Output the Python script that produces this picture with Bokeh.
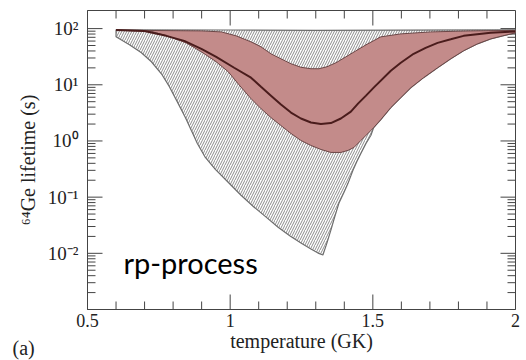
import math
from bokeh.plotting import figure
from bokeh.models import (FixedTicker, Label, Range1d, CustomJSTickFormatter)
from bokeh.embed import file_html
from bokeh.resources import INLINE

# ---------------- data ----------------
# hatched envelope (full uncertainty range)
env_upper_x = [0.60, 1.00, 1.30, 1.60, 2.00]
env_upper_y = [95, 94.5, 93, 94, 95]
env_lower_x = [0.60, 0.647, 0.689, 0.724, 0.759, 0.787, 0.818, 0.843, 0.864,
               0.885, 0.913, 0.948, 0.993, 1.038, 1.084, 1.126, 1.168, 1.210,
               1.248, 1.283, 1.308, 1.325, 1.339, 1.353, 1.367, 1.381, 1.399,
               1.413, 1.430, 1.444, 1.458, 1.476, 1.493, 1.503, 1.528, 1.563,
               1.598, 1.633, 1.678, 1.727, 1.773, 1.818, 1.867, 1.913, 1.955,
               2.00]
env_lower_y = [71.3, 51.4, 37.1, 25.7, 15.7, 9.25, 4.62, 2.61, 1.53,
               0.903, 0.509, 0.312, 0.184, 0.108, 0.0662, 0.0441, 0.0292, 0.0203,
               0.0152, 0.0119, 0.0101, 0.00933, 0.0152, 0.0259, 0.0457, 0.0776, 0.122,
               0.176, 0.299, 0.431, 0.598, 0.903, 1.25, 1.73, 2.40, 3.93,
               5.90, 8.87, 13.4, 20.1, 29.0, 40.3, 53.6, 65.6, 74.3,
               84.0]

# shaded (pink) band
band_upper_x = [0.60, 0.899, 0.969, 1.021, 1.073, 1.108, 1.143, 1.178, 1.213,
                1.248, 1.283, 1.311, 1.339, 1.371, 1.406, 1.441, 1.476, 1.528,
                1.598, 1.703, 1.843, 2.00]
band_upper_y = [93.7, 91.0, 87.3, 74.3, 58.1, 47.4, 35.6, 29.0, 23.7,
                20.5, 19.3, 19.3, 20.9, 24.7, 31.5, 40.3, 51.4, 71.3,
                80.5, 87.3, 91.0, 92.9]
band_lower_x = [0.60, 0.724, 0.783, 0.846, 0.899, 0.951, 0.993, 1.031, 1.073,
                1.108, 1.143, 1.178, 1.213, 1.248, 1.283, 1.318, 1.353, 1.388,
                1.413, 1.434, 1.458, 1.483, 1.503, 1.528, 1.563, 1.598, 1.633,
                1.678, 1.727, 1.773, 1.818, 1.867, 1.913, 1.955, 2.00]
band_lower_y = [93.5, 89.1, 72.8, 55.7, 38.6, 25.7, 17.1, 10.0, 5.68,
                3.77, 2.61, 1.88, 1.36, 1.02, 0.832, 0.706, 0.625, 0.625,
                0.679, 0.767, 1.02, 1.36, 1.73, 2.40, 3.93, 5.90, 8.87,
                13.4, 20.1, 29.0, 40.3, 53.6, 65.6, 74.3, 84.0]

# central (recommended) lifetime
line_x = [0.60, 0.699, 0.776, 0.839, 0.899, 0.951, 1.014, 1.073, 1.108, 1.143,
          1.178, 1.213, 1.248, 1.283, 1.318, 1.353, 1.388, 1.423, 1.448, 1.476,
          1.503, 1.563, 1.598, 1.643, 1.685, 1.727, 1.773, 1.818, 1.913, 2.00]
line_y = [94.5, 91.0, 74.3, 60.5, 43.7, 31.5, 20.1, 13.4, 9.25, 6.41,
          4.44, 3.20, 2.51, 2.13, 2.00, 2.08, 2.51, 3.33, 4.62, 6.41,
          8.89, 17.8, 24.7, 35.6, 45.5, 55.7, 64.4, 74.3, 84.0, 89.1]

# axes
x_start, x_end = 0.5, 2.0
y_start, y_end = 1e-3, 210
x_major = [0.5, 1.0, 1.5, 2.0]
x_minor = [0.6, 0.7, 0.8, 0.9, 1.1, 1.2, 1.3, 1.4, 1.6, 1.7, 1.8, 1.9]
y_exponents = [-2, -1, 0, 1, 2]
y_tick_labels = ["10\u207b\u00b2", "10\u207b\u00b9", "10\u2070",
                 "10\u00b9", "10\u00b2"]
y_major = [10.0 ** e for e in y_exponents]
y_minor = [k * 10.0 ** e for e in range(-3, 2) for k in range(2, 10)]

x_title = "temperature (GK)"
y_title = "\u2076\u2074Ge lifetime (s)"
panel_tag = "(a)"
note = "rp-process"

SERIF = "Liberation Serif"
AX = "#444444"
TXT = "#222222"
FW, FH = 428, 299          # frame size in px
MAJ, MIN = 15, 8           # tick lengths in px

p = figure(frame_width=FW, frame_height=FH,
           x_range=Range1d(x_start, x_end), y_range=Range1d(y_start, y_end),
           y_axis_type="log", output_backend="svg", toolbar_location=None,
           min_border_left=87, min_border_right=11, min_border_top=10,
           min_border_bottom=40, background_fill_color="white",
           border_fill_color="white")
p.xgrid.visible = False
p.ygrid.visible = False
p.outline_line_color = AX
p.outline_line_width = 1

xt = FixedTicker(ticks=x_major, minor_ticks=x_minor)
yt = FixedTicker(ticks=y_major, minor_ticks=y_minor)

for ax in (p.xaxis[0], p.yaxis[0]):
    ax.major_tick_in = 0
    ax.major_tick_out = 0
    ax.minor_tick_in = 0
    ax.minor_tick_out = 0
    ax.axis_line_color = AX

xa = p.xaxis[0]
xa.ticker = xt
xa.formatter = CustomJSTickFormatter(code="return tick.toString()")
xa.major_label_text_font = SERIF
xa.major_label_text_font_size = "18px"
xa.major_label_text_color = TXT
xa.major_label_standoff = 4
xa.axis_label = x_title
xa.axis_label_text_font = SERIF
xa.axis_label_text_font_size = "20px"
xa.axis_label_text_font_style = "normal"
xa.axis_label_text_color = TXT
xa.axis_label_standoff = 0

ya = p.yaxis[0]
ya.ticker = yt
ya.formatter = CustomJSTickFormatter(
    args=dict(labels={str(e): t for e, t in zip(y_exponents, y_tick_labels)}),
    code="return labels[String(Math.round(Math.log10(tick)))] || ''")
ya.major_label_text_font = SERIF
ya.major_label_text_font_size = "19px"
ya.major_label_text_color = TXT
ya.major_label_standoff = 9
ya.axis_label = y_title
ya.axis_label_text_font = SERIF
ya.axis_label_text_font_size = "20px"
ya.axis_label_text_font_style = "normal"
ya.axis_label_text_color = TXT
ya.axis_label_standoff = 6

# ---- inward tick marks on all four sides (drawn first, as segments) ----
dx_per_px = (x_end - x_start) / FW
dlog_per_px = math.log10(y_end / y_start) / FH


def x_ticks(vals, length):
    n = len(vals)
    up = 10 ** (length * dlog_per_px)
    p.segment(x0=vals, y0=[y_start] * n, x1=vals, y1=[y_start * up] * n,
              line_color=AX, line_width=1)
    p.segment(x0=vals, y0=[y_end] * n, x1=vals, y1=[y_end / up] * n,
              line_color=AX, line_width=1)


def y_ticks(vals, length):
    n = len(vals)
    d = length * dx_per_px
    p.segment(x0=[x_start] * n, y0=vals, x1=[x_start + d] * n, y1=vals,
              line_color=AX, line_width=1)
    p.segment(x0=[x_end] * n, y0=vals, x1=[x_end - d] * n, y1=vals,
              line_color=AX, line_width=1)


x_ticks(x_major, MAJ)
x_ticks(x_minor, MIN)
y_ticks(y_major, MAJ)
y_ticks(y_minor, MIN)

# hatched envelope
env_xs = env_upper_x + env_lower_x[::-1]
env_ys = env_upper_y + env_lower_y[::-1]
p.patch(env_xs, env_ys, fill_color="white", hatch_pattern="/",
        hatch_color="#8c8c8c", hatch_scale=5, hatch_weight=1,
        line_color="#6e6e6e", line_width=1.2)

# pink band
band_xs = band_upper_x + band_lower_x[::-1]
band_ys = band_upper_y + band_lower_y[::-1]
p.patch(band_xs, band_ys, fill_color="#c38b8a", line_color="#6b4646",
        line_width=1)

# central line
p.line(line_x, line_y, line_color="#4a1c1c", line_width=2)

# panel tag (placed in the bottom side panel so it is not clipped)
p.add_layout(Label(x=x_start, y=y_start, x_offset=-75, y_offset=-38,
                   text=panel_tag, text_align="left", text_baseline="middle",
                   text_font=SERIF, text_font_size="20px", text_color=TXT),
             "below")

# annotation
p.add_layout(Label(x=0.626, y=0.0070, text=note, text_align="left",
                   text_baseline="middle", text_font="Lato",
                   text_font_size="29px", text_color="black"))

open("out.html", "w").write(file_html(p, INLINE))
